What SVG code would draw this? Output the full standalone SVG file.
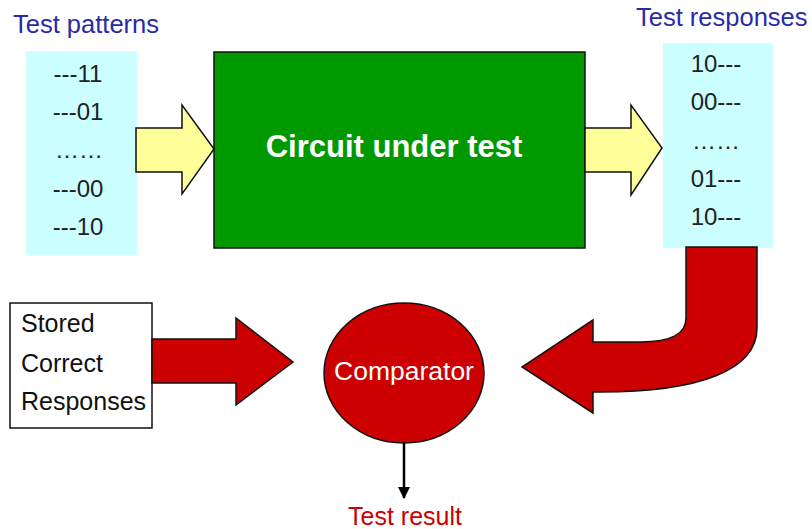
<svg xmlns="http://www.w3.org/2000/svg" width="812" height="529" viewBox="0 0 812 529">
<style>
text{font-family:"Liberation Sans",Arial,sans-serif}
.title{fill:#2a2aa8;font-size:25.5px}
.code{fill:#222;font-size:24px;text-anchor:middle}
.lbl{fill:#111;font-size:25px}
.yarrow{fill:#ffff99;stroke:#111;stroke-width:1.5;stroke-linejoin:miter}
.rarrow{fill:#cc0000;stroke:#111;stroke-width:1.5;stroke-linejoin:miter}
</style>
<defs>
<marker id="ah" viewBox="0 0 12 12" refX="11" refY="6" markerWidth="12" markerHeight="12" markerUnits="userSpaceOnUse" orient="auto">
<path d="M0,0 L12,6 L0,12 Z" fill="#000"/>
</marker>
</defs>
<rect width="812" height="529" fill="#fff"/>
<g id="patterns">
<text class="title" x="13" y="33">Test patterns</text>
<rect x="26" y="51" width="111" height="204" fill="#ccffff"/>
<text class="code" x="78" y="82">---11</text>
<text class="code" x="78" y="120">---01</text>
<text class="code" x="79" y="158">……</text>
<text class="code" x="78" y="197">---00</text>
<text class="code" x="78" y="235">---10</text>
</g>
<g id="cut">
<rect x="214" y="52" width="371" height="196" fill="#009900" stroke="#111" stroke-width="1.5"/>
<text x="394" y="157" fill="#fff" font-size="31" font-weight="bold" text-anchor="middle">Circuit under test</text>
</g>
<g id="responses">
<text class="title" x="636" y="26">Test responses</text>
<rect x="663" y="43" width="110" height="205" fill="#ccffff"/>
<text class="code" x="716" y="72">10---</text>
<text class="code" x="716" y="110">00---</text>
<text class="code" x="716" y="149">……</text>
<text class="code" x="716" y="187">01---</text>
<text class="code" x="716" y="225">10---</text>
</g>
<g id="stored">
<rect x="10" y="303" width="142" height="125" fill="#fff" stroke="#111" stroke-width="1.5"/>
<text class="lbl" x="21" y="332">Stored</text>
<text class="lbl" x="21" y="372">Correct</text>
<text class="lbl" x="21" y="410">Responses</text>
</g>
<g id="comparator">
<ellipse cx="404" cy="373" rx="80" ry="70" fill="#cc0000" stroke="#111" stroke-width="1.5"/>
<text x="404" y="380" fill="#fff" font-size="26.5" text-anchor="middle">Comparator</text>
</g>
<g id="result">
<text x="405" y="525" fill="#cc0000" font-size="25" text-anchor="middle">Test result</text>
</g>
<g id="connectors">
<path class="yarrow" d="M136 128 L182 128 L182 105 L214 149 L182 194 L182 172 L136 172 Z"/>
<path class="yarrow" d="M585 128 L631 128 L631 105 L662 148 L631 195 L631 172 L585 172 Z"/>
<path class="rarrow" d="M152 339 L236 339 L236 318 L293 362 L236 405 L236 383 L152 383 Z"/>
<path class="rarrow" d="M686 247 L757 247 L757 328 C757 370 700 392 600 392 L593 392 L593 413 L522 367 L593 320 L593 342 L640 342 C672 342 686 334 686 318 Z"/>
<line x1="404" y1="443" x2="404" y2="498" stroke="#000" stroke-width="2.5" marker-end="url(#ah)"/>
</g>
</svg>
